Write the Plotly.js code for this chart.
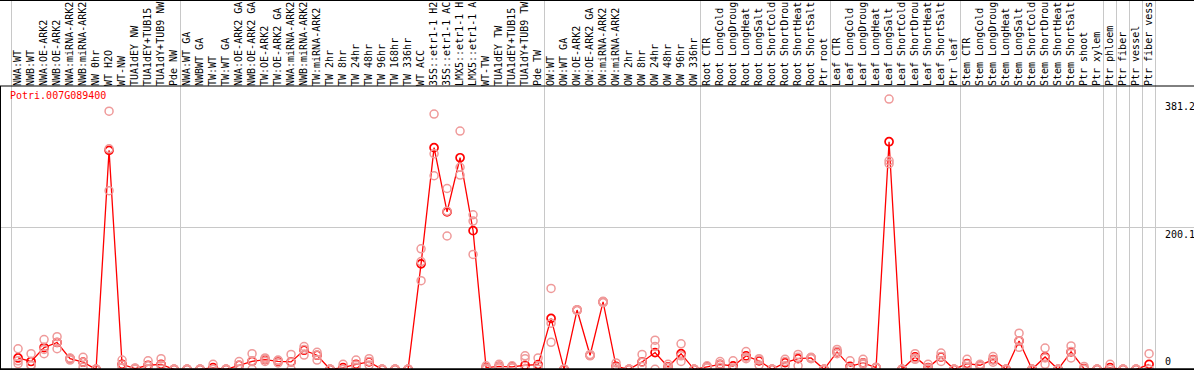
<!DOCTYPE html>
<html>
<head>
<meta charset="utf-8">
<script src="https://cdn.plot.ly/plotly-3.0.1.min.js"></script>
<style>html,body{margin:0;padding:0;background:#fff;}#chart{width:1194px;height:370px;}</style>
</head>
<body>
<div id="chart"></div>
<script>
// ---- data ----
const geneName = "Potri.007G089400";

const sampleLabels = [
  "NWA:WT","NWB:WT","NWA:OE-ARK2","NWB:OE-ARK2","NWA:miRNA-ARK2","NWB:miRNA-ARK2","NW 0hr","WT H2O","WT-NW","TUA1dEY NW","TUA1dEY+TUB15","TUA1dY+TUB9 NW","Pde NW",
  "NWA:WT GA","NWBWT GA","TW:WT","TW:WT GA","NWA:OE-ARK2 GA","NWB:OE-ARK2 GA","TW:OE-ARK2","TW:OE-ARK2 GA","NWA:miRNA-ARK2","NWB:miRNA-ARK2","TW:miRNA-ARK2","TW 2hr","TW 8hr","TW 24hr","TW 48hr","TW 96hr","TW 168hr","TW 336hr","WT ACC","35S::etr1-1 H2","35S::etr1-1 AC","LMX5::etr1-1 H","LMX5::etr1-1 A","WT-TW","TUA1dEY TW","TUA1dEY+TUB15","TUA1dY+TUB9 TW","Pde TW",
  "OW:WT","OW:WT GA","OW:OE-ARK2","OW:OE-ARK2 GA","OW:miRNA-ARK2","OW:miRNA-ARK2","OW 2hr","OW 8hr","OW 24hr","OW 48hr","OW 96hr","OW 336hr",
  "Root CTR","Root LongCold","Root LongDroug","Root LongHeat","Root LongSalt","Root ShortCold","Root ShortDrou","Root ShortHeat","Root ShortSalt","Ptr root",
  "Leaf CTR","Leaf LongCold","Leaf LongDroug","Leaf LongHeat","Leaf LongSalt","Leaf ShortCold","Leaf ShortDrou","Leaf ShortHeat","Leaf ShortSalt","Ptr leaf",
  "Stem CTR","Stem LongCold","Stem LongDroug","Stem LongHeat","Stem LongSalt","Stem ShortCold","Stem ShortDrou","Stem ShortHeat","Stem ShortSalt","Ptr shoot",
  "Ptr xylem","Ptr phloem","Ptr fiber","Ptr vessel","Ptr fiber vess"
];

const meanValues = [
  16,11,30.7,37.8,15,10,0,308.8,7,1,5.7,7,0,
  0,0,2.4,0,5.7,11.3,13.7,11.3,10.4,26.9,19.8,0,2.4,7,10.4,0,0,0,148.7,312.6,222,298.4,195.5,2.4,4.2,3.3,5.7,6.6,
  71.8,0,83.6,19.8,95,4.2,0,10.4,23.6,3.3,22,0,
  3.3,7,4.7,18.9,11.8,0,9.4,15,16,0,
  24.5,4.2,9,2.4,321,0,17.4,2.4,17.4,0,
  8,5.7,13.7,0,40,0,17.4,0,24.5,1,
  0,2.4,0,0,7
];

const rep1 = [
  29,22,42,46,16,17,0,364,13,2,12,15,0,
  0,0,7,0,11,22,16,13,21,32,24,0,7,13,15,0,0,0,170,360,255,336,218,5,7,5,19,16,
  114,0,84,21,96,9,0,21,41,7,36,0,
  5,11,12,25,15,0,14,21,17,0,
  28,12,14,3,381.2,0,22,7,23,0,
  14,7,18,0,51,0,30,0,33,4,
  0,7,0,0,22
];
const rep2 = [
  12,6,28,38,14,10,0,311,6,1,5,6,0,
  0,0,0,0,6,12,14,12,10,28,20,0,0,6,11,0,0,0,152,304,223,285,209,2,4,3,15,4,
  65,0,83.6,20,95,3,0,10,32,3,19,0,
  3,7,2,17,13,0,11,17,16,0,
  25,2,9,2,294,0,16,2,18,0,
  7,6,13,0,40,0,16,0,25,0,
  0,0,0,0,0
];
const rep3 = [
  8,5,22,29,13,3,0,252,2,0,0,0,0,
  0,0,0,0,0,0,11,9,0,20,13,0,0,3,6,0,0,0,125,273,188,274,162,0,2,2,0,0,
  38,0,83,19,94,0,0,4,0,0,11,0,
  2,3,0,15,6,0,5,5,15,0,
  22,0,7,2,290,0,14,0,11,0,
  3,4,10,0,31,0,7,0,16,0,
  0,0,0,0,0
];

const groupBoundaries = [-0.5, 12.5, 40.5, 52.5, 62.5, 72.5, 83.5, 84.5, 85.5, 86.5, 87.5];
const yTickVals = [381.2, 200.1, 0];
const yTickText = ["381.2", "200.1", "0"];

// ---- chart ----
const idx = sampleLabels.map((_, i) => i);
const W = 1194, H = 370;
const xr0 = -1.39, xr1 = xr0 + W / 13.0;
const pxPerUnit = 0.709;
const yr0 = -0.7 / pxPerUnit, yr1 = yr0 + H / pxPerUnit;
const labelLineY = 1 - 86 / H;
const mono = "DejaVu Sans Mono, monospace";

const repStyle = {symbol: "circle-open", size: 8, color: "#ef9a9a", line: {width: 1.5, color: "#ef9a9a"}};
const traces = [rep1, rep2, rep3].map(r => ({
  type: "scatter", mode: "markers", x: idx, y: r, xaxis: "x2", yaxis: "y",
  marker: repStyle, hoverinfo: "skip", cliponaxis: false
}));
traces.push({
  type: "scatter", mode: "lines+markers", x: idx, y: meanValues, xaxis: "x", yaxis: "y",
  line: {color: "#ff0000", width: 1.3},
  marker: {symbol: "circle-open", size: 8, color: "#ff0000", line: {width: 1.7, color: "#e60000"}},
  cliponaxis: false
});

const annotations = yTickVals.map((v, i) => ({
  xref: "paper", yref: "y", x: 1163 / W, y: v, text: yTickText[i],
  xanchor: "left", yanchor: v === 0 ? "bottom" : "top", showarrow: false,
  font: {family: mono, size: 10, color: "#000"}
}));

const blk = {color: "#000", width: 1};
const shapes = [
  {type: "line", xref: "paper", yref: "paper", x0: 0, x1: 1, y0: 1 - 0.5 / H, y1: 1 - 0.5 / H, line: blk},
  {type: "line", xref: "paper", yref: "paper", x0: 0, x1: 1, y0: labelLineY, y1: labelLineY, line: blk},
  {type: "line", xref: "paper", yref: "paper", x0: 0, x1: 1, y0: 0.7 / H, y1: 0.7 / H, line: {color: "#000", width: 2}},
  {type: "line", xref: "paper", yref: "paper", x0: 0.5 / W, x1: 0.5 / W, y0: 0, y1: labelLineY, line: blk}
];

const layout = {
  width: W, height: H,
  margin: {l: 0, r: 0, t: 0, b: 0, pad: 0},
  paper_bgcolor: "#fff", plot_bgcolor: "#fff",
  showlegend: false,
  title: {text: geneName, font: {family: mono, size: 10, color: "#ff0000"},
          x: 10 / W, xref: "container", xanchor: "left", y: 1 - 92 / H, yref: "container", yanchor: "top", automargin: false},
  xaxis: {range: [xr0, xr1], tickmode: "array", tickvals: groupBoundaries, showgrid: true, gridcolor: "#c8c8c8", gridwidth: 1,
          showticklabels: false, ticks: "", zeroline: false, showline: false, fixedrange: true},
  xaxis2: {overlaying: "x", anchor: "free", position: labelLineY, side: "top", range: [xr0, xr1],
           tickmode: "array", tickvals: idx, ticktext: sampleLabels, tickangle: -90, ticks: "",
           showgrid: false, zeroline: false, showline: false, automargin: false,
           tickfont: {family: mono, size: 10, color: "#000"}, fixedrange: true},
  yaxis: {range: [yr0, yr1], tickmode: "array", tickvals: [yTickVals[1]], showgrid: true, gridcolor: "#c8c8c8", gridwidth: 1,
          showticklabels: false, ticks: "", zeroline: false, showline: false, fixedrange: true},
  annotations: annotations,
  shapes: shapes
};

Plotly.newPlot("chart", traces, layout, {staticPlot: true, displayModeBar: false});
</script>
</body>
</html>
